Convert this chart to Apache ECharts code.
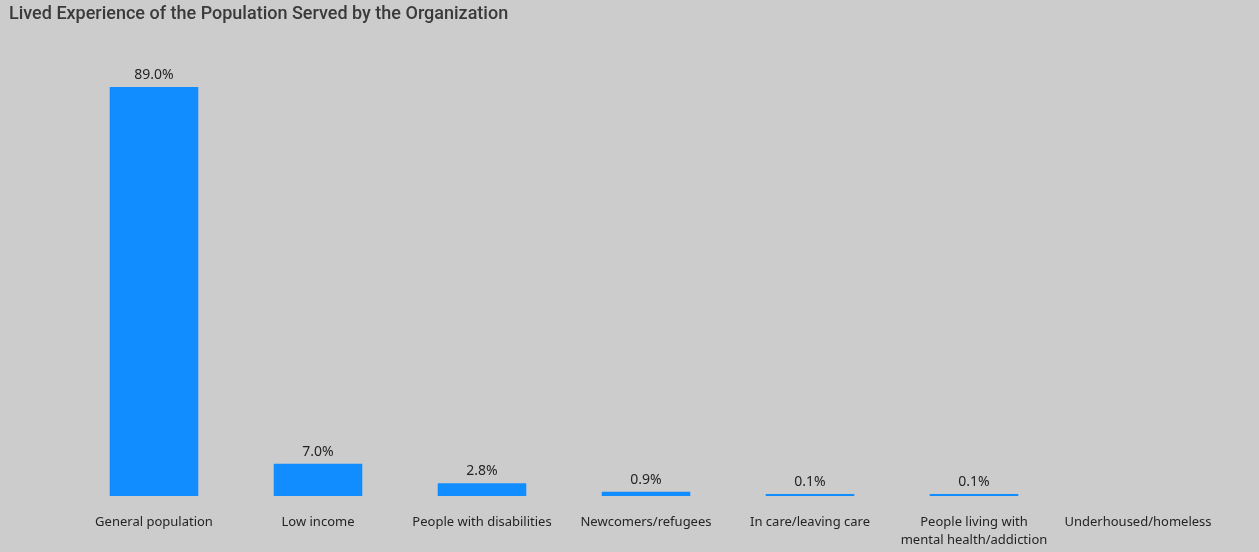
<!DOCTYPE html>
<html>
<head>
<meta charset="utf-8">
<script src="https://cdn.jsdelivr.net/npm/echarts@6/dist/echarts.min.js"></script>
<style>
  html, body { margin: 0; padding: 0; background: #cccccc; }
  #chart { width: 1259px; height: 552px; }
</style>
</head>
<body>
<div id="chart"></div>
<script>
var categories = [
  'General population',
  'Low income',
  'People with disabilities',
  'Newcomers/refugees',
  'In care/leaving care',
  'People living with\nmental health/addiction',
  'Underhoused/homeless'
]
var values = [89.0, 7.0, 2.8, 0.9, 0.1, 0.1, 0]

var chart = echarts.init(document.getElementById('chart'))
var option = {
  backgroundColor: '#cccccc',
  title: {
    text: 'Lived Experience of the Population Served by the Organization',
    left: 4,
    top: 0,
    textStyle: {
      fontFamily: 'Roboto',
      fontWeight: 500,
      fontSize: 18,
      color: '#3a3a3a'
    }
  },
  grid: {
    left: 72,
    right: 39,
    top: 87,
    bottom: 56
  },
  xAxis: {
    type: 'category',
    data: categories,
    axisLine: { show: false },
    axisTick: { show: false },
    axisLabel: {
      interval: 0,
      margin: 17,
      color: '#252423',
      fontFamily: 'Noto Sans',
      fontSize: 13,
      lineHeight: 18
    }
  },
  yAxis: {
    type: 'value',
    min: 0,
    max: 89,
    show: false
  },
  series: [{
    type: 'bar',
    data: values.map(function (v) { return v === 0 ? '-' : v }),
    barCategoryGap: '46%',
    barMinHeight: 2,
    itemStyle: { color: '#118dff' },
    label: {
      show: true,
      position: 'top',
      distance: 5,
      color: '#252423',
      fontFamily: 'Noto Sans',
      fontSize: 14,
      formatter: function (p) { return p.value.toFixed(1) + '%' }
    }
  }]
}
chart.setOption(option)
</script>
</body>
</html>
